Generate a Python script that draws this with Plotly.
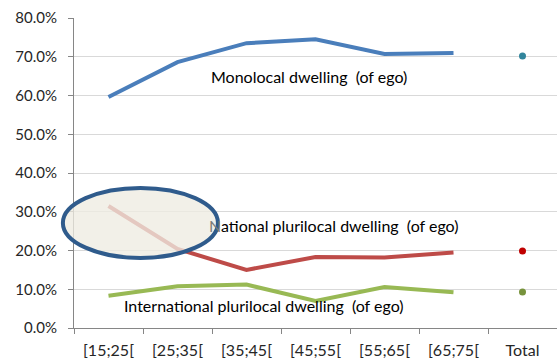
import plotly.graph_objects as go

# Age groups of ego and the overall total
age_groups = ["[15;25[", "[25;35[", "[35;45[", "[45;55[", "[55;65[", "[65;75["]
total_label = "Total"

monolocal = [0.596, 0.686, 0.735, 0.745, 0.707, 0.710]
national = [0.315, 0.204, 0.150, 0.183, 0.182, 0.195]
international = [0.083, 0.108, 0.112, 0.070, 0.106, 0.092]

monolocal_total = 0.702
national_total = 0.199
international_total = 0.093

series = [
    ("Monolocal dwelling  (of ego)", monolocal, monolocal_total, "#4a7ebb", "#31859c"),
    ("National plurilocal dwelling  (of ego)", national, national_total, "#be4b48", "#c00000"),
    ("International plurilocal dwelling  (of ego)", international, international_total, "#98b954", "#77933c"),
]

categories = age_groups + [total_label]
FONT = "Lato, 'Liberation Sans', Arial, sans-serif"

fig = go.Figure()
for name, vals, tot, line_col, dot_col in series:
    fig.add_trace(go.Scatter(
        x=age_groups, y=vals, mode="lines", name=name,
        line=dict(color=line_col, width=4), hoverinfo="x+y",
    ))
    fig.add_trace(go.Scatter(
        x=[total_label], y=[tot], mode="markers", name=name + " total",
        marker=dict(color=dot_col, size=7), hoverinfo="x+y",
    ))

# Series labels placed inside the plot
label_font = dict(family=FONT, size=16, color="#000000")
fig.add_annotation(x=0.280, y=0.81, xref="paper", yref="paper",
                   xanchor="left", yanchor="middle",
                   text="Monolocal dwelling  (of ego)", showarrow=False, font=label_font)
fig.add_annotation(x=0.275, y=0.332, xref="paper", yref="paper",
                   xanchor="left", yanchor="middle",
                   text="<span style='color:#7d7c77'>N</span>ational plurilocal dwelling  (of ego)",
                   showarrow=False, font=label_font)
fig.add_annotation(x=0.099, y=0.071, xref="paper", yref="paper",
                   xanchor="left", yanchor="middle",
                   text="International plurilocal dwelling  (of ego)", showarrow=False,
                   font=label_font)

# Highlight ellipse around the youngest age group
fig.add_shape(type="circle", xref="paper", yref="paper",
              x0=-0.023, x1=0.298, y0=0.226, y1=0.452,
              fillcolor="rgba(238,236,225,0.78)",
              line=dict(color="#2f5b8c", width=4), layer="above")

fig.update_layout(
    width=557, height=361,
    margin=dict(l=74, r=0, t=18, b=33),
    paper_bgcolor="white", plot_bgcolor="white",
    showlegend=False,
    font=dict(family=FONT, size=15, color="#262626"),
)
fig.update_xaxes(
    type="category", categoryorder="array", categoryarray=categories,
    range=[-0.5, 6.5], tickson="boundaries", ticks="outside", ticklen=5,
    tickcolor="#868686", showline=True, linecolor="#868686", linewidth=1,
    showgrid=False, automargin=False, ticklabelstandoff=8,
    tickfont=dict(family=FONT, size=16, color="#262626"),
)
fig.update_yaxes(
    range=[0, 0.8], dtick=0.1, tickformat=".1%", ticks="outside", ticklen=5,
    tickcolor="#868686", showline=True, linecolor="#868686", linewidth=1,
    showgrid=True, gridcolor="#d9d9d9", gridwidth=1, zeroline=False,
    automargin=False, ticklabelstandoff=8,
    tickfont=dict(family=FONT, size=15, color="#262626"),
)

fig.write_html("out.html")
